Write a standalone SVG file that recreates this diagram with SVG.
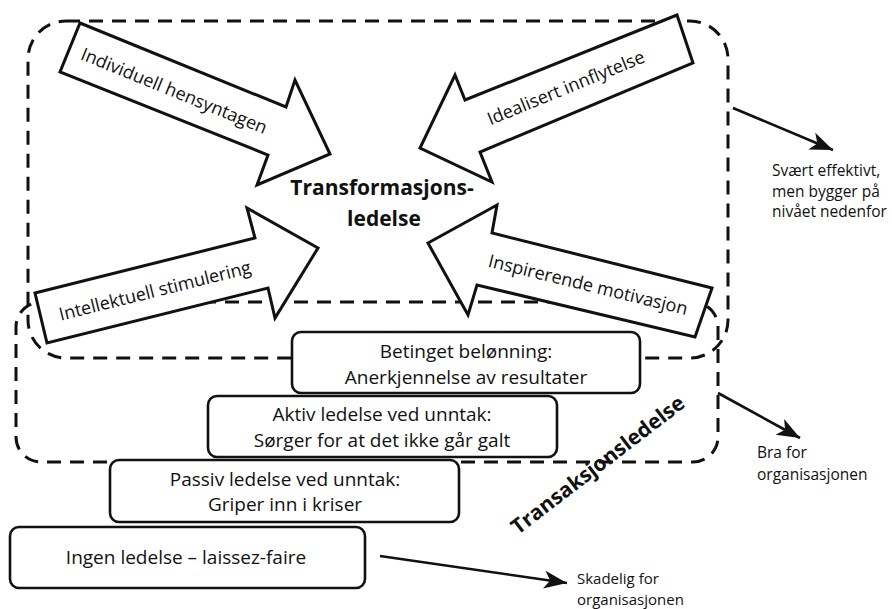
<svg xmlns="http://www.w3.org/2000/svg" width="892" height="609" viewBox="0 0 892 609">
<defs>
<style>
.dash{fill:none;stroke:#111;stroke-width:3;stroke-dasharray:14 9}
.barrow{fill:#fff;stroke:#111;stroke-width:3;stroke-linejoin:miter}
.box{fill:#fff;stroke:#111;stroke-width:2.6}
.t{font-family:"Open Sans","Noto Sans","Liberation Sans",sans-serif;fill:#111;font-weight:500}
.lbl{font-size:18px}
.bt{font-size:19px;text-anchor:middle}
.side{font-size:15.5px}
.bold{font-weight:bold}
.conn{fill:none;stroke:#111;stroke-width:2.6}
</style>
<marker id="ah" markerUnits="userSpaceOnUse" markerWidth="26" markerHeight="22" viewBox="-24 -11 26 22" refX="0" refY="0" orient="auto">
<path d="M0,0 L-23,-9 L-17,0 L-23,9 Z" fill="#111"/>
</marker>
</defs>
<rect width="892" height="609" fill="#fff"/>

<g id="transformational-frame">
<rect class="dash" x="28" y="21" width="700" height="337" rx="38" ry="38"/>
</g>
<g id="transactional-frame">
<rect class="dash" x="16" y="302" width="702" height="160" rx="25" ry="25"/>
</g>

<g id="arrow-individuell">
<polygon class="barrow" points="80,23 286,107 295,80 330,154 257,185 268,155 60,72"/>
<text class="t lbl" text-anchor="middle" transform="translate(174,91) rotate(22.2)" y="6">Individuell hensyntagen</text>
</g>
<g id="arrow-idealisert">
<polygon class="barrow" points="677,15 465,100 455,75 420,148 492,182 480,152 693,63"/>
<text class="t lbl" text-anchor="middle" transform="translate(566,88) rotate(-22.3)" y="6">Idealisert innflytelse</text>
</g>
<g id="arrow-intellektuell">
<polygon class="barrow" points="35,293 255,238 247,208 318,248 275,318 268,288 47,343"/>
<text class="t lbl" text-anchor="middle" transform="translate(155,291) rotate(-14)" y="6">Intellektuell stimulering</text>
</g>
<g id="arrow-inspirerende">
<polygon class="barrow" points="712,288 492,233 497,205 428,243 468,315 477,285 695,337"/>
<text class="t lbl" text-anchor="middle" transform="translate(588,285) rotate(13.7)" y="6">Inspirerende motivasjon</text>
</g>

<g id="center-label">
<text class="t bold" font-size="21" text-anchor="middle" x="382" y="195">Transformasjons-</text>
<text class="t bold" font-size="21" text-anchor="middle" x="384" y="226">ledelse</text>
</g>

<g id="box-betinget">
<rect class="box" x="292" y="332" width="348" height="61" rx="9"/>
<text class="t bt" x="466" y="358">Betinget belønning:</text>
<text class="t bt" x="466" y="384">Anerkjennelse av resultater</text>
</g>
<g id="box-aktiv">
<rect class="box" x="208" y="396" width="349" height="61" rx="9"/>
<text class="t bt" x="382" y="421">Aktiv ledelse ved unntak:</text>
<text class="t bt" x="382" y="447">Sørger for at det ikke går galt</text>
</g>
<g id="box-passiv">
<rect class="box" x="110" y="460" width="349" height="62" rx="9"/>
<text class="t bt" x="285" y="486">Passiv ledelse ved unntak:</text>
<text class="t bt" x="285" y="511">Griper inn i kriser</text>
</g>
<g id="box-ingen">
<rect class="box" x="10" y="527" width="355" height="61" rx="9"/>
<text class="t bt" x="186" y="564">Ingen ledelse – laissez-faire</text>
</g>

<g id="transaksjon-label">
<text class="t bold" font-size="21" text-anchor="middle" transform="translate(598,465) rotate(-37.5)" y="7">Transaksjonsledelse</text>
</g>

<g id="connectors">
<line class="conn" x1="733" y1="108" x2="833" y2="150" marker-end="url(#ah)"/>
<line class="conn" x1="718" y1="393" x2="800" y2="438" marker-end="url(#ah)"/>
<line class="conn" x1="380" y1="556" x2="567" y2="583" marker-end="url(#ah)"/>
</g>

<g id="note-svaert">
<text class="t side" x="772" y="176">Svært effektivt,</text>
<text class="t side" x="772" y="196.5">men bygger på</text>
<text class="t side" x="772" y="217">nivået nedenfor</text>
</g>
<g id="note-bra">
<text class="t side" x="757" y="458">Bra for</text>
<text class="t side" x="757" y="480">organisasjonen</text>
</g>
<g id="note-skadelig">
<text class="t" font-size="15" x="577" y="584">Skadelig for</text>
<text class="t" font-size="15" x="577" y="605">organisasjonen</text>
</g>
</svg>
